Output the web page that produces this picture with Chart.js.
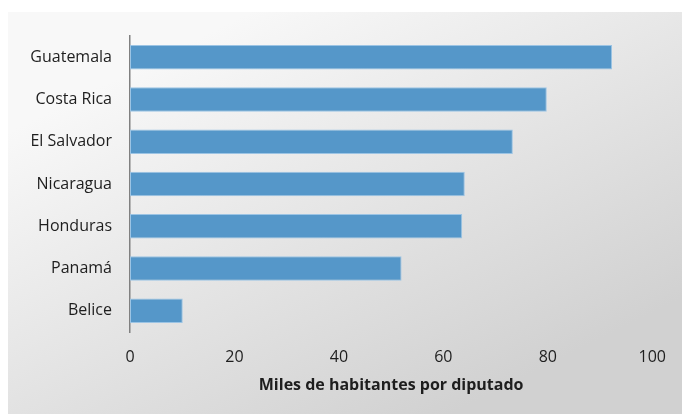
<!DOCTYPE html>
<html>
<head>
<meta charset="utf-8">
<script src="https://cdn.jsdelivr.net/npm/chart.js@4.4.1/dist/chart.umd.min.js"></script>
<style>
    html, body { margin: 0; padding: 0; background: #ffffff; }
    #wrap { width: 682px; height: 414px; }
</style>
</head>
<body>
<div id="wrap"><canvas id="chart" width="682" height="414"></canvas></div>
<script>
// Miles de habitantes por diputado, Centroamérica

const countries = ['Guatemala', 'Costa Rica', 'El Salvador', 'Nicaragua', 'Honduras', 'Panamá', 'Belice'];
const habitantsPerDeputy = [92.3, 79.8, 73.3, 64.1, 63.6, 52.0, 10.1];
const xTicks = [0, 20, 40, 60, 80, 100];

const colors = {
    bar: '#5597c9',
    barEdge: '#9cc4e4',
    axis: '#808080',
    text: '#1e1e1e'
};

// gray gradient panel behind the plot
const panelBackground = {
    id: 'panelBackground',
    beforeDraw(chart) {
        const ctx = chart.ctx;
        ctx.save();
        ctx.fillStyle = '#ffffff';
        ctx.fillRect(0, 0, chart.width, chart.height);
        const grad = ctx.createLinearGradient(250, 12, 450, 414);
        grad.addColorStop(0, '#f8f8f8');
        grad.addColorStop(1, '#d1d1d1');
        ctx.fillStyle = grad;
        ctx.fillRect(8, 12, chart.width - 8, chart.height - 12);
        ctx.restore();
    }
};

const ctx = document.getElementById('chart').getContext('2d');

new Chart(ctx, {
    type: 'bar',
    data: {
        labels: countries,
        datasets: [{
            data: habitantsPerDeputy,
            backgroundColor: colors.bar,
            borderColor: colors.barEdge,
            borderWidth: 1,
            borderSkipped: false,
            categoryPercentage: 1,
            barPercentage: 0.58
        }]
    },
    options: {
        indexAxis: 'y',
        responsive: false,
        animation: false,
        layout: {
            padding: { top: 36, right: 27, bottom: 0, left: 0 }
        },
        plugins: {
            legend: { display: false },
            tooltip: { enabled: false }
        },
        scales: {
            x: {
                min: 0,
                max: 100,
                afterBuildTicks(scale) {
                    scale.ticks = xTicks.map(v => ({ value: v }));
                },
                afterFit(scale) {
                    scale.height = 82;
                },
                grid: { display: false, drawTicks: false },
                border: { display: false },
                ticks: {
                    padding: 16,
                    color: colors.text,
                    font: { family: 'Open Sans', size: 16 }
                },
                title: {
                    display: true,
                    text: 'Miles de habitantes por diputado',
                    color: colors.text,
                    font: { family: 'Open Sans', size: 16, weight: 'bold' },
                    padding: { top: 0, bottom: 19 }
                }
            },
            y: {
                afterFit(scale) {
                    scale.width = 130;
                },
                grid: { display: false, drawTicks: false },
                border: { display: true, color: colors.axis, width: 1.5 },
                ticks: {
                    padding: 18,
                    color: colors.text,
                    font: { family: 'Open Sans', size: 16 }
                }
            }
        }
    },
    plugins: [panelBackground]
});
</script>
</body>
</html>
